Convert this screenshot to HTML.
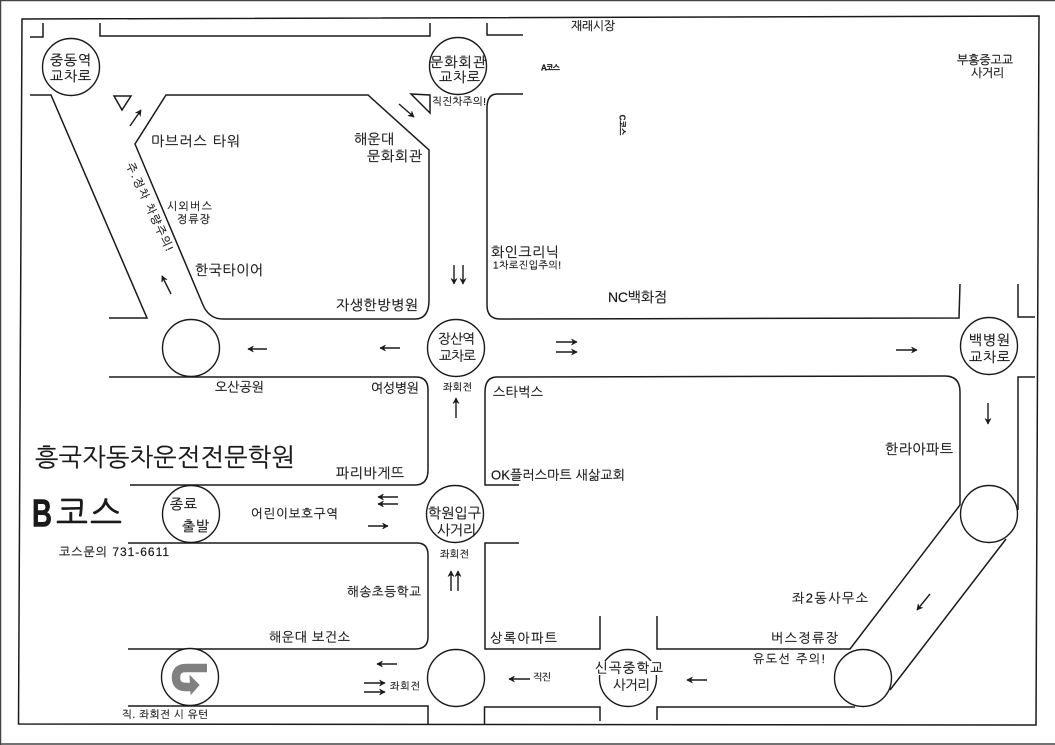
<!DOCTYPE html>
<html lang="ko">
<head>
<meta charset="utf-8">
<title>B코스</title>
<style>
html,body{margin:0;padding:0;background:#fff;}
svg{display:block;}
text{font-family:"Liberation Sans","NanumGothic","Noto Sans CJK KR",sans-serif;fill:#1a1a1a;stroke:#1a1a1a;stroke-width:.2;dominant-baseline:central;}
.l{fill:none;stroke:#1a1a1a;stroke-width:1.5;}
.a{fill:none;stroke:#1a1a1a;stroke-width:1.4;marker-end:url(#h);}
.c{fill:#fff;stroke:#1a1a1a;stroke-width:1.4;}
</style>
</head>
<body>
<svg width="1055" height="745" viewBox="0 0 1055 745" xmlns="http://www.w3.org/2000/svg">
<defs>
<marker id="h" markerUnits="userSpaceOnUse" markerWidth="10" markerHeight="10" refX="8" refY="5" orient="auto">
<path d="M2.5,2 L8,5 L2.5,8 L4.5,5 Z" fill="#1a1a1a" stroke="#1a1a1a" stroke-width=".6"/>
</marker>
</defs>
<rect width="1055" height="745" fill="#fff"/>
<path d="M0.5,745 V0.5 H1055" fill="none" stroke="#444" stroke-width="1.5"/>
<path d="M0,744 H1055" fill="none" stroke="#444" stroke-width="1.5"/>
<path d="M22,19 L1039,16 L1036,725 L18.5,724 Z" class="l"/>

<!-- roads -->
<path class="l" d="M30,37 H43 V23"/>
<path class="l" d="M100,23 V36 H430 V23"/>
<path class="l" d="M487,23 V35 H523"/>
<path class="l" d="M30,95 H51 L147,318 H109"/>
<path class="l" d="M166,95 H368 L429,150 V300 Q429,319 415,319 H223 Q209,319 203,305 L135,144 Z"/>
<path class="l" d="M523,94 H497 Q487,94 487,108 V305 Q487,319 500,319 L959,318 L960,284"/>
<path class="l" d="M1018,284 V317 H1035"/>
<path class="l" d="M109,377 H416 Q428,377 428,390 V470 Q428,485 415,485 H130"/>
<path class="l" d="M128,543 H417 Q428,543 428,555 V637 Q428,649 415,649 H128"/>
<path class="l" d="M128,706 H428 V725"/>
<path class="l" d="M484.5,725 V707 H600 V721"/>
<path class="l" d="M657,720 V707 H855"/>
<path class="l" d="M519,543 H485 V649 H600 V616"/>
<path class="l" d="M657,616 V649 H850 L960,505 V392 Q960,376 945,376 L497,377 Q485,377 485,392 V485 H519"/>
<path class="l" d="M890,690 L1006,539"/>
<path class="l" d="M1018,510 V377 H1035"/>
<path class="l" d="M114,96 H131 L122,110 Z"/>
<path class="l" d="M411,94 L430,95 V113 Z"/>

<!-- circles -->
<circle class="c" cx="71" cy="67" r="28.5"/>
<circle class="c" cx="458" cy="66" r="28.5"/>
<circle class="c" cx="191" cy="348" r="28.5"/>
<circle class="c" cx="456" cy="348" r="28.5"/>
<circle class="c" cx="989" cy="346" r="28.5"/>
<circle class="c" cx="989" cy="514" r="28.5"/>
<circle class="c" cx="863" cy="678" r="28.5"/>
<circle class="c" cx="628" cy="678" r="28.5"/>
<circle class="c" cx="456" cy="678" r="28.5"/>
<circle class="c" cx="190" cy="677" r="28.5"/>
<circle class="c" cx="455" cy="514" r="28.5"/>
<circle class="c" cx="191" cy="514" r="28.5"/>
<rect x="595" y="661" width="68" height="14" fill="#fff"/>

<!-- u-turn -->
<path d="M207,668 H186 Q176,668 176,677.5 Q176,687 186,687 H192" fill="none" stroke="#808080" stroke-width="8.5"/>
<path d="M190,676 L199,685 L191,694 Z" fill="#808080" stroke="#808080"/>

<!-- arrows -->
<path class="a" d="M130,126 L141,110"/>
<path class="a" d="M399,104 L414,117"/>
<path class="a" d="M171,294 L162,276"/>
<path class="a" d="M454,265 V284"/>
<path class="a" d="M463,265 V284"/>
<path class="a" d="M267,349 H248"/>
<path class="a" d="M400,348 H380"/>
<path class="a" d="M556,342 H577"/>
<path class="a" d="M556,352 H577"/>
<path class="a" d="M896,350 H917"/>
<path class="a" d="M456,418 V398"/>
<path class="a" d="M398,497 H378"/>
<path class="a" d="M398,504 H378"/>
<path class="a" d="M368,526 H388"/>
<path class="a" d="M451,591 V571"/>
<path class="a" d="M458,591 V571"/>
<path class="a" d="M397,664 H377"/>
<path class="a" d="M364,683 H385"/>
<path class="a" d="M364,692 H385"/>
<path class="a" d="M530,679 H509"/>
<path class="a" d="M988,403 V424"/>
<path class="a" d="M930,594 L917,610"/>
<path class="a" d="M707,680 H687"/>

<!-- labels -->
<text x="571" y="26" font-size="12" textLength="44">재래시장</text>
<text x="541" y="68" font-size="8" font-weight="bold" textLength="19">A코스</text>
<text transform="translate(622,125) rotate(90)" text-anchor="middle" font-size="8" font-weight="bold">C코스</text>
<text x="957" y="60" font-size="12" textLength="56">부흥중고교</text>
<text x="971" y="73" font-size="12" textLength="33">사거리</text>
<text x="491" y="252" font-size="14" textLength="68">화인크리닉</text>
<text x="493" y="266" font-size="10" textLength="68">1차로진입주의!</text>
<text x="608" y="297" font-size="14" textLength="59">NC백화점</text>
<text x="430" y="62" font-size="14" textLength="56">문화회관</text>
<text x="439" y="77" font-size="14" textLength="41">교차로</text>
<text x="50" y="60" font-size="14" textLength="41">중동역</text>
<text x="50" y="76" font-size="14" textLength="41">교차로</text>
<text x="432" y="102" font-size="10.5" textLength="54">직진차주의!</text>
<text x="151" y="141" font-size="14" textLength="89">마브러스 타워</text>
<text x="354" y="139" font-size="14" textLength="40">해운대</text>
<text x="367" y="156" font-size="14" textLength="55">문화회관</text>
<text x="167" y="207" font-size="11" textLength="45">시외버스</text>
<text x="177" y="220" font-size="11" textLength="33">정류장</text>
<text x="195" y="270" font-size="14" textLength="68">한국타이어</text>
<text x="336" y="305" font-size="14" textLength="82">자생한방병원</text>
<text transform="translate(149,207) rotate(65)" text-anchor="middle" font-size="11" textLength="96">주.정차 차량주의!</text>
<text x="438" y="339" font-size="13.5" textLength="37">장산역</text>
<text x="439" y="356" font-size="13.5" textLength="37">교차로</text>
<text x="969" y="340" font-size="14" textLength="41">백병원</text>
<text x="969" y="357" font-size="14" textLength="41">교차로</text>
<text x="215" y="387" font-size="13" textLength="49">오산공원</text>
<text x="371" y="388" font-size="13" textLength="48">여성병원</text>
<text x="443" y="388" font-size="10" textLength="29">좌회전</text>
<text x="493" y="392" font-size="13" textLength="50">스타벅스</text>
<text x="35" y="458" font-size="25" textLength="260">흥국자동차운전전문학원</text>
<text x="336" y="473" font-size="14" textLength="68">파리바게뜨</text>
<text x="491" y="475" font-size="13" textLength="134">OK플러스마트 새삶교회</text>
<text x="885" y="449" font-size="14" textLength="68">한라아파트</text>
<text x="32" y="514" font-size="39" font-weight="bold" textLength="20" lengthAdjust="spacingAndGlyphs" style="stroke-width:.6">B</text>
<text x="56" y="514" font-size="34" textLength="66" style="stroke-width:.6">코스</text>
<text x="170" y="504" font-size="14" textLength="27">종료</text>
<text x="182" y="526" font-size="14" textLength="27">출발</text>
<text x="251" y="514" font-size="12.5" textLength="87">어린이보호구역</text>
<text x="428" y="513" font-size="14" textLength="53">학원입구</text>
<text x="437" y="530" font-size="14" textLength="39">사거리</text>
<text x="59" y="552" font-size="12" textLength="110">코스문의 731-6611</text>
<text x="440" y="555" font-size="10" textLength="29">좌회전</text>
<text x="347" y="592" font-size="12.5" textLength="74">해송초등학교</text>
<text x="792" y="598" font-size="13" textLength="76">좌2동사무소</text>
<text x="269" y="637" font-size="13" textLength="81">해운대 보건소</text>
<text x="490" y="638" font-size="13" textLength="67">상록아파트</text>
<text x="771" y="638" font-size="13" textLength="67">버스정류장</text>
<text x="753" y="659" font-size="12" textLength="72">유도선 주의!</text>
<text x="533" y="678" font-size="10" textLength="18">직진</text>
<text x="390" y="687" font-size="10" textLength="30">좌회전</text>
<text x="595" y="668" font-size="13.5" textLength="68">신곡중학교</text>
<text x="613" y="685" font-size="13.5" textLength="37">사거리</text>
<text x="122" y="715" font-size="10.5" textLength="86">직. 좌회전 시 유턴</text>
</svg>
</body>
</html>
